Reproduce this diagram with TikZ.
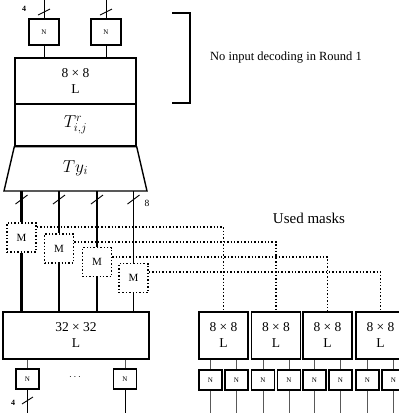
\documentclass[tikz,border=0pt]{standalone}
\usepackage{fontspec}
\setmainfont{Liberation Serif}
\usetikzlibrary{calc}
\begin{document}
\begin{tikzpicture}[x=1pt,y=-1pt,
  box/.style={draw, line width=1.4pt, inner sep=0pt, align=center, font=\fontsize{13.5}{16}\selectfont},
  nbox/.style={draw, line width=1.4pt, inner sep=0pt, font=\fontsize{7}{8}\selectfont},
  mbox/.style={draw, dotted, line width=1.4pt, minimum width=29pt, minimum height=29pt, inner sep=0pt, font=\fontsize{11}{12}\selectfont},
  wire/.style={line width=0.9pt},
  graywire/.style={line width=0.8pt, black!65},
  busA/.style={line width=2.4pt},
  busB/.style={line width=1.7pt},
  mask/.style={dotted, line width=1.4pt},
  slash/.style={line width=0.9pt},
  small/.style={font=\fontsize{9}{10}\selectfont, inner sep=0pt},
]
\useasboundingbox (0,0) rectangle (399,413);

% ---- top part ----
\node[nbox, minimum width=30pt, minimum height=26pt] (n1) at (44,32) {N};
\node[nbox, minimum width=30pt, minimum height=26pt] (n2) at (106,32) {N};
\coordinate (t1) at (44,0);
\coordinate (t2) at (106,0);
\draw[wire] (t1) -- (n1.north);
\draw[wire] (t2) -- (n2.north);
\draw[slash] (38,15) -- (50,9);
\draw[slash] (100,15) -- (112,9);
\node[small, font=\bfseries\fontsize{8}{9}\selectfont] (four1) at (24,9) {4};

\node[box, minimum width=121pt, minimum height=46pt] (L8) at (75.5,81) {8 × 8\\L};
\draw[wire] (n1.south) -- (n1.south |- L8.north);
\draw[wire] (n2.south) -- (n2.south |- L8.north);

\node[box, minimum width=121pt, minimum height=42pt, font=\fontsize{18}{20}\selectfont] (T) at (75.5,125) {$T^{r}_{i,j}$};

\draw[line width=1.4pt] (T.south west) -- (T.south east) -- (147,191) -- (4,191) -- cycle;
\node[font=\fontsize{18}{20}\selectfont] (Ty) at (75.5,168) {$Ty_i$};

% bracket and note
\draw[line width=1.2pt] (172,13) -- (190,13) -- (190,103) -- (172,103);
\node[font=\fontsize{12.5}{14}\selectfont, inner sep=0pt] (note) at (286,58) {No input decoding in Round 1};

% ---- masks ----
\node[mbox] (M1) at (21.5,237.5) {M};
\node[mbox] (M2) at (59,248.5) {M};
\node[mbox] (M3) at (97,262) {M};
\node[mbox] (M4) at (133.5,278) {M};

\coordinate (b1) at (21.5,191);
\coordinate (b2) at (59,191);
\coordinate (b3) at (97,191);
\coordinate (b4) at (133.5,191);

\node[box, minimum width=146pt, minimum height=47pt] (L32) at (76,335.5) {32 × 32\\L};

\draw[busA] (b1) -- (M1.north);
\draw[busB] (b2) -- (M2.north);
\draw[busB] (b3) -- (M3.north);
\draw[busB] (b4) -- (M4.north);
\draw[busA] (M1.south) -- (M1.south |- L32.north);
\draw[busB] (M2.south) -- (M2.south |- L32.north);
\draw[busB] (M3.south) -- (M3.south |- L32.north);
\draw[busB] (M4.south) -- (M4.south |- L32.north);

\foreach \x in {21.5,59,97,133.5}{
  \draw[slash] (\x-6,204) -- (\x+6,195);
}
\node[small, font=\fontsize{9.5}{10}\selectfont] (eight) at (147,203) {8};

\node[font=\fontsize{15}{17}\selectfont, inner sep=0pt] (used) at (309,218) {Used masks};

% small L boxes
\node[box, minimum width=49pt, minimum height=47pt] (S1) at (223.5,335.5) {8 × 8\\L};
\node[box, minimum width=49pt, minimum height=47pt] (S2) at (276,335.5) {8 × 8\\L};
\node[box, minimum width=49pt, minimum height=47pt] (S3) at (327.5,335.5) {8 × 8\\L};
\node[box, minimum width=49pt, minimum height=47pt] (S4) at (380.5,335.5) {8 × 8\\L};

\coordinate (h1) at (0,227);
\coordinate (h2) at (0,242);
\coordinate (h3) at (0,257);
\coordinate (h4) at (0,272);
\draw[mask] (M1.east |- h1) -| (S1.north);
\draw[mask] (M2.east |- h2) -| (S2.north);
\draw[mask] (M3.east |- h3) -| (S3.north);
\draw[mask] (M4.east |- h4) -| (S4.north);

% small N boxes under small L boxes
\foreach \s in {1,2,3,4}{
  \node[nbox, minimum width=23pt, minimum height=20pt] (sa\s) at ($(S\s.center)+(-13,44.5)$) {N};
  \node[nbox, minimum width=23pt, minimum height=20pt] (sb\s) at ($(S\s.center)+(13,44.5)$) {N};
  \coordinate (ea\s) at ($(sa\s.center)+(0,33)$);
  \coordinate (eb\s) at ($(sb\s.center)+(0,33)$);
  \draw[graywire] (sa\s.north) -- (sa\s.north |- S\s.south);
  \draw[graywire] (sb\s.north) -- (sb\s.north |- S\s.south);
  \draw[graywire] (sa\s.south) -- (ea\s);
  \draw[graywire] (sb\s.south) -- (eb\s);
}

% N boxes under 32x32
\node[nbox, minimum width=23pt, minimum height=20pt] (bn1) at (27.5,379) {N};
\node[nbox, minimum width=23pt, minimum height=20pt] (bn2) at (125,379) {N};
\node[font=\fontsize{10}{12}\selectfont] (dots) at (75,377) {$\cdots$};
\coordinate (be1) at (27.5,413);
\coordinate (be2) at (125,413);
\draw[graywire] (bn1.north) -- (bn1.north |- L32.south);
\draw[graywire] (bn2.north) -- (bn2.north |- L32.south);
\draw[wire] (bn1.south) -- (be1);
\draw[wire] (bn2.south) -- (be2);
\draw[slash] (22,404) -- (33,397);
\node[small, font=\bfseries\fontsize{8}{9}\selectfont] (four2) at (13,403) {4};
\end{tikzpicture}
\end{document}
